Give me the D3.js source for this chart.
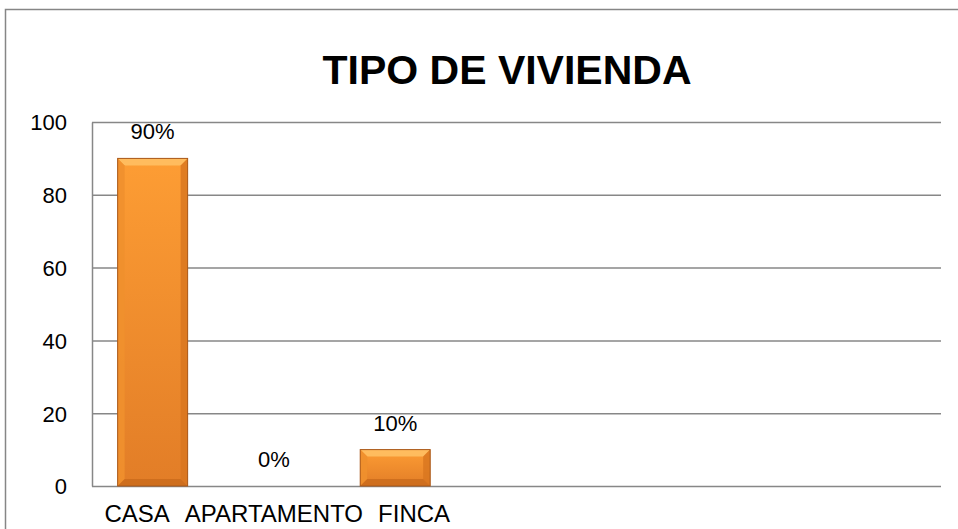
<!DOCTYPE html>
<html>
<head>
<meta charset="utf-8">
<script src="https://cdn.jsdelivr.net/npm/d3@7"></script>
<style>
  html, body { margin: 0; padding: 0; background: #fff; }
  svg { display: block; font-family: "Liberation Sans", Arial, sans-serif; }
</style>
</head>
<body>
<svg id="chart" width="958" height="529"></svg>
<script>
// chart data
const title = "TIPO DE VIVIENDA";
const categories = ["CASA", "APARTAMENTO", "FINCA", "", "", "", ""]; // 4 empty slots like the source sheet
const values = [90, 0, 10];
const valueLabels = ["90%", "0%", "10%"];
const yTicks = [0, 20, 40, 60, 80, 100];

const svg = d3.select("#chart");
const plotLeft = 92, plotRight = 941, plotTop = 122, plotBottom = 486;

// outer chart border (cut off on the right / bottom in the original)
svg.append("rect")
  .attr("x", 5.5).attr("y", 9.5)
  .attr("width", 1010).attr("height", 540)
  .attr("fill", "white")
  .attr("stroke", "#868686")
  .attr("stroke-width", 1.5);

svg.append("text")
  .attr("x", 507).attr("y", 84)
  .attr("text-anchor", "middle")
  .style("font-size", "41px")
  .style("font-weight", "bold")
  .text(title);

const x = d3.scaleBand()
  .domain(d3.range(categories.length))
  .range([plotLeft, plotRight])
  .paddingInner(0.423)
  .paddingOuter(0.2115);

const y = d3.scaleLinear()
  .domain([0, 100])
  .range([plotBottom, plotTop]);

// y axis + gridlines
const yAxis = svg.append("g")
  .attr("transform", `translate(${plotLeft},0)`)
  .call(d3.axisLeft(y).tickValues(yTicks).tickSize(-(plotRight - plotLeft)).tickSizeOuter(0).tickPadding(25));
yAxis.selectAll(".tick line").attr("stroke", "#878787").attr("stroke-width", 1.5);
yAxis.select(".domain").attr("stroke", "#878787").attr("stroke-width", 1.5);
yAxis.selectAll(".tick text")
  .attr("dy", "0.36em")
  .style("font-size", "22px")
  .style("font-family", "'Liberation Sans', Arial, sans-serif")
  .attr("fill", "#000");

// bar gradients
const defs = svg.append("defs");
const grad = defs.append("linearGradient").attr("id", "barFill")
  .attr("x1", 0).attr("y1", 0).attr("x2", 0).attr("y2", 1);
grad.append("stop").attr("offset", "0%").attr("stop-color", "#fd9d34");
grad.append("stop").attr("offset", "100%").attr("stop-color", "#e27d27");

const bev = 7;
const barData = values.map((v, i) => ({ i, v, label: valueLabels[i] }));

const bars = svg.append("g").selectAll("g")
  .data(barData.filter(d => d.v > 0))
  .join("g");

bars.each(function(d) {
  const g = d3.select(this);
  const x0 = x(d.i), x1 = x(d.i) + x.bandwidth();
  const y0 = y(d.v), y1 = y(0);
  const b = Math.min(bev, (y1 - y0) / 2);
  g.append("rect")
    .attr("x", x0).attr("y", y0)
    .attr("width", x1 - x0).attr("height", y1 - y0)
    .attr("fill", "url(#barFill)");
  // bevel edges
  g.append("polygon")
    .attr("points", [[x0, y0], [x1, y0], [x1 - b, y0 + b], [x0 + b, y0 + b]].join(" "))
    .attr("fill", "#ffc266").attr("opacity", 0.85);
  g.append("polygon")
    .attr("points", [[x0, y0], [x0 + b, y0 + b], [x0 + b, y1 - b], [x0, y1]].join(" "))
    .attr("fill", "#f0902e").attr("opacity", 0.9);
  g.append("polygon")
    .attr("points", [[x1, y0], [x1, y1], [x1 - b, y1 - b], [x1 - b, y0 + b]].join(" "))
    .attr("fill", "#d8761f").attr("opacity", 0.8);
  g.append("polygon")
    .attr("points", [[x0, y1], [x0 + b, y1 - b], [x1 - b, y1 - b], [x1, y1]].join(" "))
    .attr("fill", "#c96a1c").attr("opacity", 0.8);
  g.append("rect")
    .attr("x", x0).attr("y", y0)
    .attr("width", x1 - x0).attr("height", y1 - y0)
    .attr("fill", "none")
    .attr("stroke", "#a9581a")
    .attr("stroke-width", 1);
});

// value labels
svg.append("g").selectAll("text")
  .data(barData)
  .join("text")
  .attr("x", d => x(d.i) + x.bandwidth() / 2)
  .attr("y", d => y(d.v) - 19)
  .attr("text-anchor", "middle")
  .style("font-size", "22px")
  .text(d => d.label);

// category labels, pushed apart where they collide (like the original)
const catText = svg.append("g").selectAll("text")
  .data(categories.map((c, i) => ({ c, i })).filter(d => d.c))
  .join("text")
  .attr("y", 522)
  .attr("text-anchor", "middle")
  .style("font-size", "24px")
  .text(d => d.c);

const boxes = [];
catText.each(function(d) {
  const w = this.getComputedTextLength();
  boxes.push({ node: this, cx: x(d.i) + x.bandwidth() / 2, w });
});
const gap = 15;
// keep the widest label fixed and push the others outward
const anchor = d3.maxIndex(boxes, b => b.w);
for (let k = anchor - 1; k >= 0; k--) {
  const limit = boxes[k + 1].cx - boxes[k + 1].w / 2 - gap;
  if (boxes[k].cx + boxes[k].w / 2 > limit) boxes[k].cx = limit - boxes[k].w / 2;
}
for (let k = anchor + 1; k < boxes.length; k++) {
  const limit = boxes[k - 1].cx + boxes[k - 1].w / 2 + gap;
  if (boxes[k].cx - boxes[k].w / 2 < limit) boxes[k].cx = limit + boxes[k].w / 2;
}
boxes.forEach(b => d3.select(b.node).attr("x", b.cx));
</script>
</body>
</html>
